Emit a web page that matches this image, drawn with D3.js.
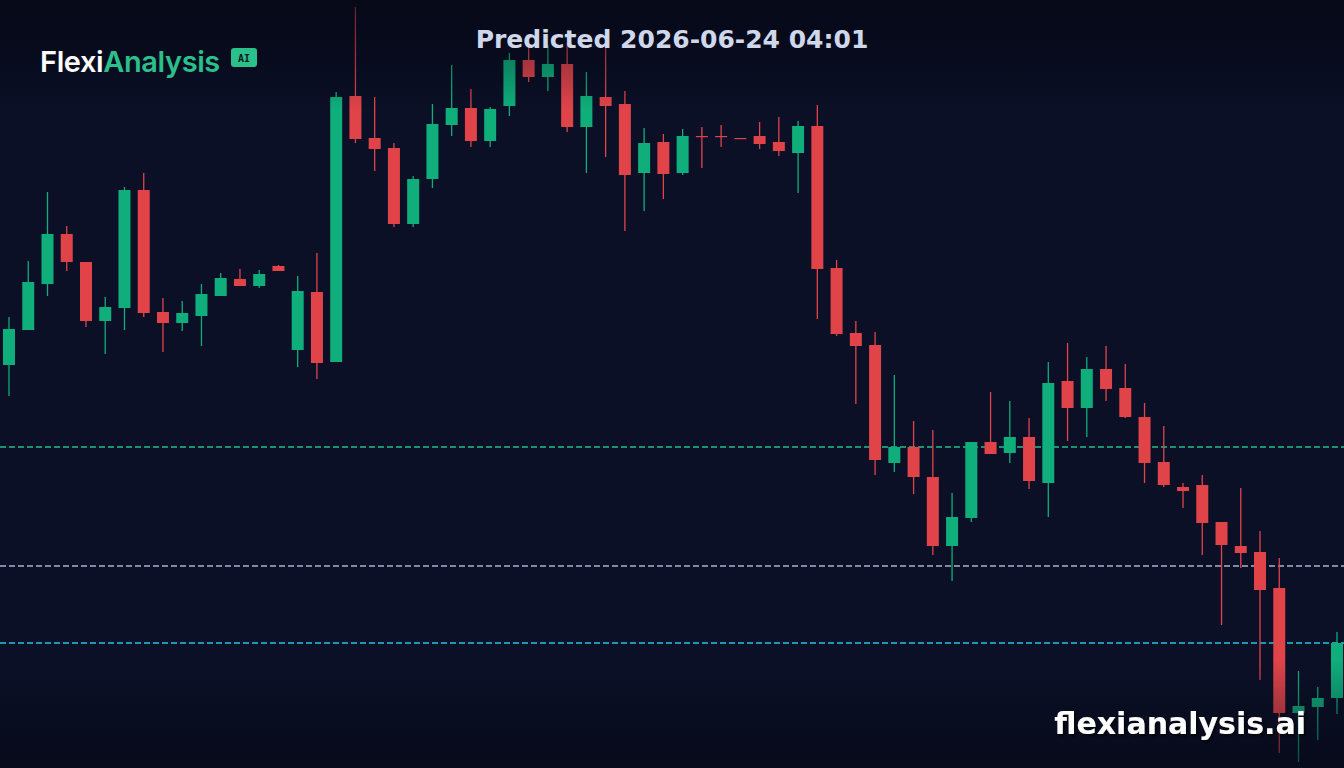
<!DOCTYPE html>
<html>
<head>
<meta charset="utf-8">
<script src="https://cdn.jsdelivr.net/npm/d3@7"></script>
<style>
  html, body { margin: 0; padding: 0; background: #0b1027; }
  svg { display: block; }
</style>
</head>
<body>
<svg id="chart"></svg>
<script>
// candle data (open, high, low, close)
const opens  = [140.3,143.8,148.4,153.4,150.6,144.7,146.0,157.8,145.6,144.5,145.2,147.2,148.9,148.2,150.2,141.8,147.6,140.6,167.2,163.0,
                162.0,154.4,158.9,164.3,166.0,162.7,166.2,170.8,169.1,170.4,164.1,167.1,166.4,159.5,162.6,159.5,163.2,163.2,163.0,163.2,
                162.6,161.5,164.2,150.0,143.5,142.3,130.5,132.1,129.1,122.2,125.0,132.6,131.5,133.1,128.5,138.7,136.0,139.9,138.0,135.1,
                130.6,128.1,128.3,124.6,122.2,121.6,118.0,105.5,106.1,107.0];
const highs  = [145.1,150.7,157.6,154.2,150.6,147.1,158.1,159.5,147.0,146.7,148.4,149.5,149.9,149.8,150.3,149.2,151.5,167.6,176.1,167.1,
                162.5,159.2,166.4,170.3,167.9,166.1,171.5,172.8,172.3,172.5,169.6,172.3,167.7,164.0,163.4,163.9,164.1,164.3,163.0,164.6,
                165.1,164.7,166.3,150.8,144.7,143.6,139.3,134.7,133.8,127.5,132.6,137.6,136.7,135.0,140.6,142.5,141.1,142.2,140.4,136.5,
                134.2,128.5,129.3,124.6,128.0,123.7,121.0,109.7,108.1,113.6];
const lows   = [137.2,143.8,147.2,149.7,144.1,141.4,143.8,145.1,141.6,143.7,142.2,147.2,148.2,148.0,149.7,140.1,138.9,140.6,162.5,159.7,
                154.1,154.1,158.0,163.2,162.1,162.1,165.2,168.6,167.7,163.6,159.5,161.1,153.7,155.7,156.9,159.3,160.0,162.1,162.95,161.9,
                161.2,157.5,144.9,143.2,136.4,129.3,129.6,127.4,121.3,118.7,124.6,131.4,130.5,127.9,125.1,132.7,133.1,136.7,135.0,128.5,
                128.1,126.0,121.3,114.3,120.0,108.8,101.5,100.6,102.8,105.4];
const closes = [143.9,148.6,153.4,150.6,144.7,146.1,157.8,145.5,144.5,145.5,147.4,149.0,148.2,149.4,149.7,147.7,140.5,167.1,162.9,161.9,
                154.4,158.9,164.4,166.0,162.7,165.9,170.8,169.1,170.4,164.1,167.2,166.2,159.3,162.5,159.4,163.2,163.1,163.1,162.95,162.4,
                161.7,164.2,149.9,143.4,142.2,130.8,132.1,129.1,122.2,125.1,132.6,131.4,133.1,128.7,138.5,136.0,139.9,137.9,135.1,130.5,
                128.3,127.7,124.5,122.3,121.5,117.8,105.5,106.2,107.0,112.5];

// horizontal reference levels
const levels = [132.1, 120.2, 112.5];
const levelColors = ['#1fbf8f', '#a9b0c8', '#1ec8e6'];

const titleText = 'Predicted 2026-06-24 04:01';
const watermark = 'flexianalysis.ai';

const width = 1344;
const height = 768;

const candles = opens.map((o, i) => ({ i: i, o: o, h: highs[i], l: lows[i], c: closes[i] }));

const svg = d3.select('#chart')
    .attr('width', width)
    .attr('height', height);

const defs = svg.append('defs');

// background gradient
const bg = defs.append('linearGradient').attr('id', 'bg').attr('x1', 0).attr('y1', 0).attr('x2', 0).attr('y2', 1);
bg.append('stop').attr('offset', '0%').attr('stop-color', '#060918');
bg.append('stop').attr('offset', '15%').attr('stop-color', '#0b1027');
bg.append('stop').attr('offset', '88%').attr('stop-color', '#0b1027');
bg.append('stop').attr('offset', '100%').attr('stop-color', '#070b1c');

// fade overlays at top / bottom
const fadeTop = defs.append('linearGradient').attr('id', 'fadeTop').attr('x1', 0).attr('y1', 0).attr('x2', 0).attr('y2', 1);
fadeTop.append('stop').attr('offset', '0%').attr('stop-color', '#060918').attr('stop-opacity', 0.6);
fadeTop.append('stop').attr('offset', '100%').attr('stop-color', '#060918').attr('stop-opacity', 0);
const fadeBot = defs.append('linearGradient').attr('id', 'fadeBot').attr('x1', 0).attr('y1', 0).attr('x2', 0).attr('y2', 1);
fadeBot.append('stop').attr('offset', '0%').attr('stop-color', '#070b1c').attr('stop-opacity', 0);
fadeBot.append('stop').attr('offset', '100%').attr('stop-color', '#070b1c').attr('stop-opacity', 0.6);

const shadow = defs.append('filter').attr('id', 'shadow').attr('x', '-10%').attr('y', '-30%').attr('width', '130%').attr('height', '160%');
shadow.append('feDropShadow').attr('dx', 2).attr('dy', 2).attr('stdDeviation', 1.5)
    .attr('flood-color', '#000').attr('flood-opacity', 0.7);

svg.append('rect').attr('width', width).attr('height', height).attr('fill', 'url(#bg)');

const x = d3.scalePoint()
    .domain(candles.map(d => d.i))
    .range([9, 1337]);

const y = d3.scaleLinear()
    .domain([100, 176.8])
    .range([height, 0]);

const green = '#0fae7b';
const red = '#e04449';
const bodyW = 12;

// dashed levels
svg.selectAll('line.level')
    .data(levels)
    .enter()
    .append('line')
    .attr('class', 'level')
    .attr('x1', 0)
    .attr('x2', width)
    .attr('y1', d => y(d))
    .attr('y2', d => y(d))
    .attr('stroke', (d, i) => levelColors[i])
    .attr('stroke-width', 1.5)
    .attr('stroke-dasharray', '6,3');

const g = svg.append('g');

const candle = g.selectAll('g.candle')
    .data(candles)
    .enter()
    .append('g')
    .attr('class', 'candle');

candle.append('line')
    .attr('x1', d => x(d.i))
    .attr('x2', d => x(d.i))
    .attr('y1', d => y(d.h))
    .attr('y2', d => y(d.l))
    .attr('stroke', d => d.c >= d.o ? green : red)
    .attr('stroke-width', 1.3);

candle.append('rect')
    .attr('x', d => x(d.i) - bodyW / 2)
    .attr('y', d => y(Math.max(d.o, d.c)))
    .attr('width', bodyW)
    .attr('height', d => Math.max(1.2, Math.abs(y(d.o) - y(d.c))))
    .attr('fill', d => d.c >= d.o ? green : red);

// fades over the candles
svg.append('rect').attr('x', 0).attr('y', 0).attr('width', width).attr('height', 110).attr('fill', 'url(#fadeTop)');
svg.append('rect').attr('x', 0).attr('y', 660).attr('width', width).attr('height', 108).attr('fill', 'url(#fadeBot)');

// title
svg.append('text')
    .attr('x', width / 2)
    .attr('y', 48)
    .attr('text-anchor', 'middle')
    .attr('font-family', 'DejaVu Sans')
    .attr('font-weight', 'bold')
    .attr('font-size', 25)
    .attr('fill', '#cfd7ea')
    .text(titleText);

// logo
const logo = svg.append('text')
    .attr('x', 40)
    .attr('y', 72)
    .attr('font-family', 'Inter')
    .attr('font-weight', 600)
    .attr('font-size', 29)
    .attr('letter-spacing', -0.4);
logo.append('tspan').attr('fill', '#ffffff').text('Flexi');
logo.append('tspan').attr('fill', '#2bc08b').text('Analysis');

svg.append('rect')
    .attr('x', 231).attr('y', 48)
    .attr('width', 26).attr('height', 19)
    .attr('rx', 3)
    .attr('fill', '#2bc08b');
svg.append('text')
    .attr('x', 244).attr('y', 62)
    .attr('text-anchor', 'middle')
    .attr('font-family', 'DejaVu Sans Mono')
    .attr('font-weight', 'bold')
    .attr('font-size', 10)
    .attr('fill', '#0b1a1a')
    .text('AI');

// watermark
svg.append('text')
    .attr('x', 1306)
    .attr('y', 734)
    .attr('text-anchor', 'end')
    .attr('font-family', 'DejaVu Sans')
    .attr('font-weight', 'bold')
    .attr('font-size', 30)
    .attr('fill', '#ffffff')
    .attr('filter', 'url(#shadow)')
    .text(watermark);
</script>
</body>
</html>
